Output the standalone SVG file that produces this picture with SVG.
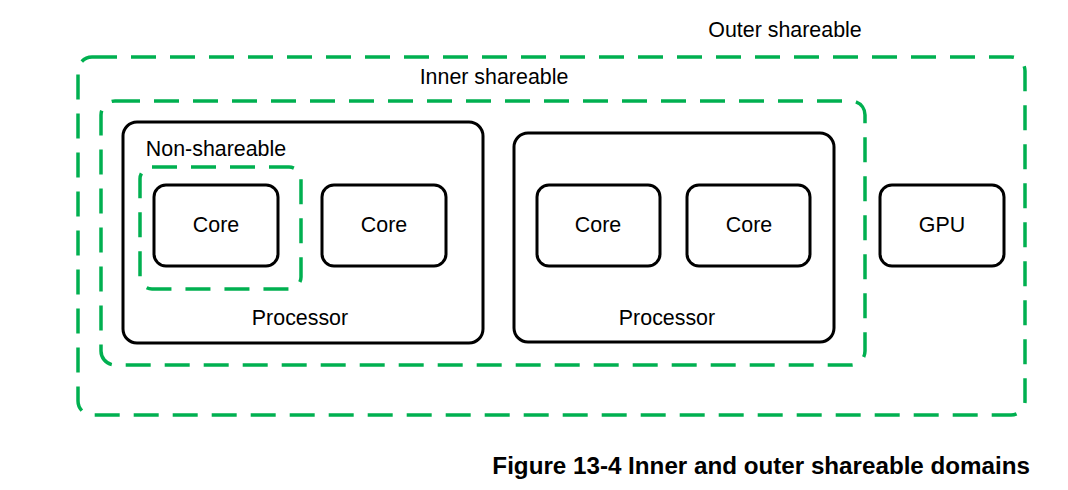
<svg xmlns="http://www.w3.org/2000/svg" width="1068" height="490" viewBox="0 0 1068 490">
<style>
  .dom { fill: none; stroke: #00B050; stroke-width: 3.5; stroke-dasharray: 25 14; }
  .box { fill: #ffffff; stroke: #000000; stroke-width: 3; }
  .lbl { font-family: "Liberation Sans", Arial, sans-serif; font-size: 21.4px; fill: #000000; }
  .mid { text-anchor: middle; }
  .cap { font-family: "Liberation Sans", Arial, sans-serif; font-size: 24.2px; font-weight: bold; fill: #000000; }
</style>
<rect width="1068" height="490" fill="#ffffff"/>
<g id="outer-shareable">
  <rect class="dom" x="78" y="57" width="947" height="358" rx="14"/>
  <text class="lbl mid" x="785" y="37">Outer shareable</text>
</g>
<g id="inner-shareable">
  <rect class="dom" x="101" y="101" width="764" height="264" rx="14"/>
  <text class="lbl mid" x="494" y="84">Inner shareable</text>
</g>
<g id="processor1">
  <rect class="box" x="123" y="122" width="360" height="221" rx="14"/>
  <text class="lbl mid" x="300" y="325">Processor</text>
</g>
<g id="processor2">
  <rect class="box" x="514" y="133" width="320" height="209" rx="14"/>
  <text class="lbl mid" x="667" y="325">Processor</text>
</g>
<g id="non-shareable">
  <rect class="dom" x="140" y="167" width="161" height="122" rx="12"/>
  <text class="lbl mid" x="216" y="156">Non-shareable</text>
</g>
<g id="core1">
  <rect class="box" x="154" y="185" width="124" height="81" rx="12"/>
  <text class="lbl mid" x="216" y="232">Core</text>
</g>
<g id="core2">
  <rect class="box" x="322" y="185" width="124" height="81" rx="12"/>
  <text class="lbl mid" x="384" y="232">Core</text>
</g>
<g id="core3">
  <rect class="box" x="537" y="185" width="123" height="81" rx="12"/>
  <text class="lbl mid" x="598" y="232">Core</text>
</g>
<g id="core4">
  <rect class="box" x="687" y="185" width="123" height="81" rx="12"/>
  <text class="lbl mid" x="749" y="232">Core</text>
</g>
<g id="gpu">
  <rect class="box" x="880" y="185" width="124" height="81" rx="12"/>
  <text class="lbl mid" x="942" y="232">GPU</text>
</g>
<g id="connectors"></g>
<text class="cap" x="1030" y="474" text-anchor="end">Figure 13-4 Inner and outer shareable domains</text>
</svg>
